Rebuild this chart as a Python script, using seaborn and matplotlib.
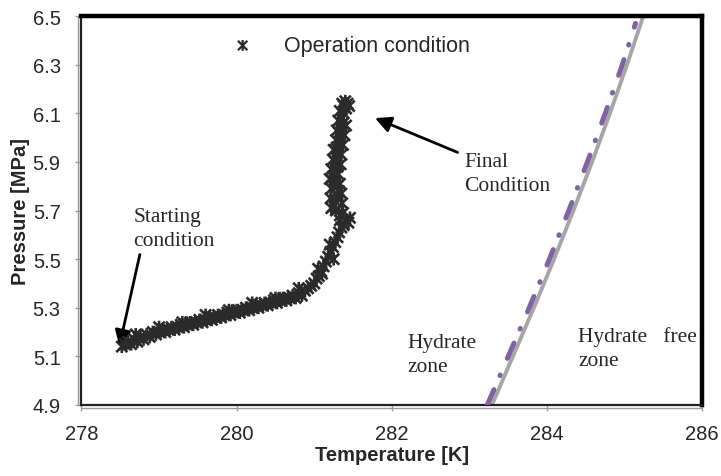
import matplotlib
matplotlib.use("Agg")
import matplotlib.pyplot as plt
import seaborn as sns
import pandas as pd
from matplotlib.path import Path
from matplotlib.transforms import offset_copy

sns.set_theme(style="white")
plt.rcParams['font.family'] = ['Liberation Sans', 'DejaVu Sans']
plt.rcParams['lines.scale_dashes'] = False

# Operation condition (T [K], P [MPa])
op_T = [278.52, 278.56, 278.60, 278.64, 278.68, 278.72, 278.76, 278.80, 278.84, 278.88,
        278.92, 278.96, 279.00, 279.04, 279.08, 279.12, 279.16, 279.20, 279.24, 279.28,
        279.32, 279.36, 279.40, 279.44, 279.48, 279.52, 279.56, 279.60, 279.64, 279.68,
        279.72, 279.76, 279.80, 279.84, 279.88, 279.92, 279.96, 280.00, 280.04, 280.08,
        280.12, 280.16, 280.20, 280.24, 280.28, 280.32, 280.36, 280.40, 280.44, 280.48,
        280.52, 280.56, 280.60, 280.64, 280.68, 280.72, 280.76, 280.80, 280.84, 280.88,
        280.92, 280.96, 281.00, 281.03, 281.06, 281.09, 281.12, 281.15, 281.18, 281.21,
        281.24, 281.27, 281.30, 281.32, 281.35, 281.38, 281.44, 281.46, 281.40, 281.33,
        281.28, 281.25, 281.27, 281.30, 281.32, 281.29, 281.26, 281.24, 281.27, 281.30,
        281.27, 281.28, 281.31, 281.29, 281.32, 281.34, 281.32, 281.35, 281.37, 281.36,
        281.38, 281.41, 281.38, 281.43, 281.40, 281.36, 281.45,
        281.22, 281.21, 281.22, 281.20, 281.22, 281.24, 281.25, 281.28, 281.29, 281.31,
        281.33, 281.37, 281.36, 281.35, 281.33, 281.31, 281.34, 281.35, 281.37, 281.39,
        281.41,
        278.70, 279.00, 279.30, 279.60, 279.90, 280.20, 280.50, 280.80, 281.05, 281.20,
        281.33, 281.10, 281.25]
op_P = [5.14, 5.15, 5.16, 5.15, 5.17, 5.16, 5.18, 5.17, 5.19, 5.18,
        5.20, 5.19, 5.20, 5.21, 5.20, 5.21, 5.22, 5.21, 5.22, 5.23,
        5.22, 5.23, 5.24, 5.23, 5.24, 5.25, 5.24, 5.25, 5.26, 5.25,
        5.26, 5.27, 5.26, 5.27, 5.28, 5.27, 5.28, 5.29, 5.28, 5.29,
        5.30, 5.29, 5.30, 5.31, 5.30, 5.31, 5.32, 5.31, 5.32, 5.33,
        5.32, 5.33, 5.34, 5.33, 5.34, 5.35, 5.34, 5.36, 5.35, 5.37,
        5.38, 5.39, 5.40, 5.42, 5.43, 5.45, 5.47, 5.49, 5.51, 5.53,
        5.55, 5.57, 5.59, 5.61, 5.63, 5.64, 5.65, 5.67, 5.66, 5.68,
        5.70, 5.72, 5.74, 5.76, 5.78, 5.80, 5.82, 5.84, 5.86, 5.88,
        5.90, 5.92, 5.94, 5.96, 5.98, 6.00, 6.02, 6.04, 6.06, 6.08,
        6.10, 6.12, 6.13, 6.14, 6.15, 6.14, 6.13,
        5.71, 5.75, 5.79, 5.83, 5.87, 5.91, 5.95, 5.99, 6.03, 6.07,
        6.11, 5.69, 5.73, 5.77, 5.81, 5.85, 5.89, 5.93, 5.97, 6.01,
        6.05,
        5.19, 5.22, 5.24, 5.27, 5.29, 5.32, 5.34, 5.38, 5.46, 5.56,
        5.66, 5.44, 5.50]

# Hydrate equilibrium curve (grey, solid)
eq_P = [4.9, 5.1, 5.3, 5.5, 5.7, 5.9, 6.1, 6.3, 6.5]
eq_T = [283.29, 283.56, 283.83, 284.09, 284.34, 284.58, 284.81, 285.03, 285.24]

# Hydrate equilibrium curve (purple, dash-dot)
mod_P = [4.9, 5.1, 5.3, 5.5, 5.7, 5.9, 6.1, 6.3, 6.47]
mod_T = [283.23, 283.50, 283.77, 284.03, 284.28, 284.52, 284.75, 284.97, 285.14]

x_ticks = [278, 280, 282, 284, 286]
y_ticks = [4.9, 5.1, 5.3, 5.5, 5.7, 5.9, 6.1, 6.3, 6.5]

# star marker: an "x" crossed by a vertical stroke
star = Path([(-1, -1), (1, 1), (-1, 1), (1, -1), (0, -1.15), (0, 1.15)],
            [Path.MOVETO, Path.LINETO, Path.MOVETO, Path.LINETO, Path.MOVETO, Path.LINETO])

fig = plt.figure(figsize=(7.21, 4.77), dpi=100)
ax = fig.add_axes([0.113, 0.149, 0.861, 0.815])

sns.lineplot(x=eq_T, y=eq_P, sort=False, estimator=None, ax=ax,
             color='#a6a6a6', linewidth=2.8, zorder=2)
ln = sns.lineplot(x=mod_T, y=mod_P, sort=False, estimator=None, ax=ax,
                  color='#8064a2', linewidth=3.6, zorder=3)
ln.lines[-1].set_dashes([12, 11, 0.5, 13])
ln.lines[-1].set_dash_capstyle('round')

df = pd.DataFrame({'T': op_T, 'P': op_P})
sns.scatterplot(data=df, x='T', y='P', marker=star, s=85, color='#2b2b2b',
                edgecolor='#2b2b2b', facecolor='none',
                linewidth=1.9, ax=ax, label='Operation condition', zorder=4)

ax.set_xlim(278, 286)
ax.set_ylim(4.9, 6.5)
ax.set_xticks(x_ticks)
ax.set_xticklabels([str(t) for t in x_ticks])
ax.set_yticks(y_ticks)
ax.set_yticklabels([f"{t:.1f}" for t in y_ticks])
ax.tick_params(axis='both', which='major', labelsize=14.5, length=4, width=1,
               color='#a0a0a0', direction='out', left=True, bottom=True)
ax.tick_params(axis='y', pad=11)
ax.tick_params(axis='x', pad=10)

ax.set_xlabel('Temperature [K]', fontsize=14.5, fontweight='bold', labelpad=1.5)
ax.set_ylabel('Pressure [MPa]', fontsize=14.5, fontweight='bold', labelpad=2)

for side in ['top', 'right']:
    ax.spines[side].set_color('black')
    ax.spines[side].set_linewidth(3.2)
for side in ['left', 'bottom']:
    ax.spines[side].set_color('#202020')
    ax.spines[side].set_linewidth(1.6)
# outer grey rule of the double border on left and bottom
tl = offset_copy(ax.transAxes, fig=fig, x=-3, y=0, units='dots')
tb = offset_copy(ax.transAxes, fig=fig, x=0, y=-3, units='dots')
ax.plot([0, 0], [0, 1], transform=tl, color='#9a9a9a', lw=1, clip_on=False)
ax.plot([0, 1], [0, 0], transform=tb, color='#9a9a9a', lw=1, clip_on=False)

leg = ax.legend(loc='upper left', bbox_to_anchor=(0.218, 0.99), frameon=False,
                fontsize=15.5, handlelength=1.0, handletextpad=1.4,
                markerscale=0.85, borderaxespad=0.3)
for h in leg.legend_handles:
    h.set_edgecolor('#2b2b2b')
    h.set_linewidth(1.6)

serif = ['Liberation Serif', 'DejaVu Serif']
tkw = dict(family=serif, fontsize=15.5, va='top', ha='left', linespacing=1.35)
ax.text(278.67, 5.715, 'Starting\ncondition', **tkw)
ax.text(282.93, 5.94, 'Final\nCondition', **tkw)
ax.text(282.20, 5.195, 'Hydrate\nzone', **tkw)
ax.text(284.40, 5.225, 'Hydrate   free\nzone', **tkw)

arrow = dict(arrowstyle='-|>,head_length=0.8,head_width=0.4', color='black', lw=2)
ax.annotate('', xy=(278.48, 5.13), xytext=(278.76, 5.53), arrowprops=arrow)
ax.annotate('', xy=(281.75, 6.085), xytext=(282.88, 5.935), arrowprops=arrow)

fig.savefig('out.png', dpi=100)
